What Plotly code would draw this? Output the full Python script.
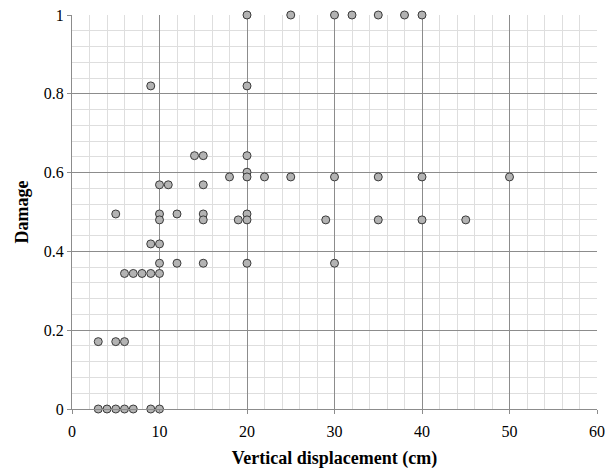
import plotly.graph_objects as go

# Vertical displacement (cm) and Damage values
displacement = [
    3, 3, 4, 5, 5, 5, 6, 6, 6, 7, 7, 8, 9, 9, 9, 9,
    10, 10, 10, 10, 10, 10, 10, 11, 12, 12, 14,
    15, 15, 15, 15, 15, 18, 19,
    20, 20, 20, 20, 20, 20, 20, 20, 22,
    25, 25, 29, 30, 30, 30, 32, 35, 35, 35, 38,
    40, 40, 40, 45, 50,
]
damage = [
    0.171, 0.0, 0.0, 0.495, 0.171, 0.0, 0.344, 0.171, 0.0, 0.344, 0.0, 0.344, 0.82, 0.419, 0.344, 0.0,
    0.569, 0.495, 0.48, 0.419, 0.37, 0.344, 0.0, 0.569, 0.495, 0.37, 0.643,
    0.643, 0.569, 0.495, 0.48, 0.37, 0.589, 0.48,
    1.0, 0.82, 0.643, 0.601, 0.589, 0.495, 0.48, 0.37, 0.589,
    1.0, 0.589, 0.48, 1.0, 0.589, 0.37, 1.0, 1.0, 0.589, 0.48, 1.0,
    1.0, 0.589, 0.48, 0.48, 0.589,
]

x_title = "Vertical displacement (cm)"
y_title = "Damage"

fig = go.Figure()
fig.add_trace(go.Scatter(
    x=displacement, y=damage, mode="markers",
    cliponaxis=False,
    marker=dict(symbol="circle", size=8, color="#b3b3b3",
                line=dict(color="#3a3a3a", width=1)),
    showlegend=False,
))

font_family = "'Liberation Serif', 'Times New Roman', serif"

fig.update_layout(
    width=605, height=475,
    margin=dict(l=72, r=8, t=15, b=66),
    paper_bgcolor="white", plot_bgcolor="white",
    font=dict(family=font_family, size=16, color="black"),
    xaxis=dict(
        range=[0, 60], dtick=10, tick0=0, automargin=False,
        showgrid=True, gridcolor="#8c8c8c", gridwidth=1,
        minor=dict(dtick=2, showgrid=True, gridcolor="#dedede", gridwidth=1),
        showline=True, linecolor="#8c8c8c", linewidth=1,
        ticks="outside", ticklen=4, tickcolor="#8c8c8c",
        ticklabelstandoff=4,
        zeroline=False,
        title=dict(text="<b>" + x_title + "</b>", font=dict(size=18, family=font_family), standoff=12),
        tickfont=dict(size=16, family=font_family),
    ),
    yaxis=dict(
        range=[0, 1], dtick=0.2, tick0=0, automargin=False,
        showgrid=True, gridcolor="#8c8c8c", gridwidth=1,
        minor=dict(dtick=0.04, showgrid=True, gridcolor="#dedede", gridwidth=1),
        showline=True, linecolor="#8c8c8c", linewidth=1,
        ticks="outside", ticklen=4, tickcolor="#8c8c8c",
        zeroline=False,
        title=dict(text="<b>" + y_title + "</b>", font=dict(size=18, family=font_family), standoff=10),
        tickfont=dict(size=16, family=font_family),
    ),
)

fig.write_html("out.html")
